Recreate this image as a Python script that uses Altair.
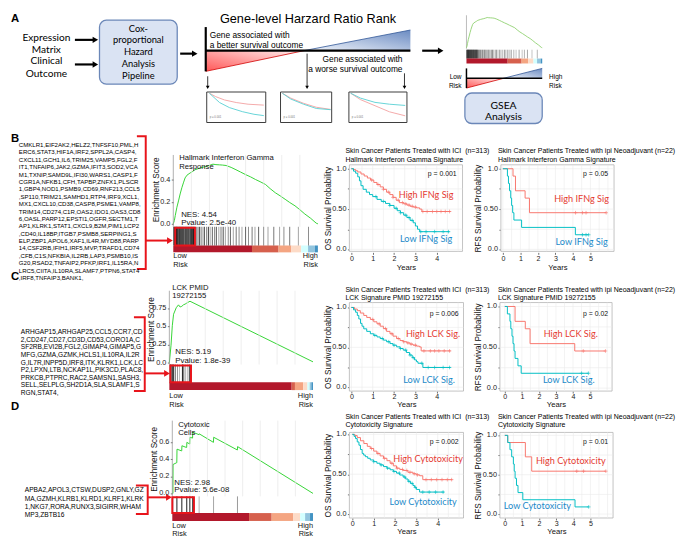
import altair as alt
import pandas as pd

# ============================ DATA ============================
N_GENES = 20000

# --- B: Hallmark Interferon Gamma Response (running enrichment score) ---
IFNG_ES_RANK = [0, 150, 272, 500, 721, 950, 1184, 1400, 1633, 1900, 2313, 2650, 2993, 3300, 3673, 4100,
                4585, 5000, 5483, 5900, 6395, 6800, 7306, 8000, 8667, 9300, 10027, 10700, 11388, 12000,
                12748, 13400, 14109, 14800, 15469, 16100, 16830, 17500, 18190, 19000, 19769, 20000]
IFNG_ES = [0.0, 0.03, 0.074, 0.15, 0.207, 0.27, 0.326, 0.37, 0.415, 0.44, 0.459, 0.472, 0.489, 0.495,
           0.504, 0.512, 0.519, 0.528, 0.539, 0.535, 0.533, 0.531, 0.527, 0.51, 0.489, 0.468, 0.444,
           0.424, 0.40, 0.381, 0.356, 0.318, 0.281, 0.252, 0.222, 0.193, 0.163, 0.128, 0.089, 0.05,
           0.006, 0.0]
IFNG_HITS = [80, 200, 330, 450, 560, 700, 830, 960, 1100, 1230, 1370, 1500, 1640, 1780, 1920, 2060,
             2200, 2350, 2500, 2650, 2800, 2950,
             3150, 3400, 3600, 3850, 4100, 4300, 4600, 4850, 5100, 5400, 5700, 5950, 6300, 6600, 6900,
             7200, 7600, 7900, 8300, 8700, 9100, 9500, 10000, 10400,
             10900, 11300, 11800, 12500, 13100, 13900, 14700, 15300, 16100, 17300, 18700]
IFNG_HIT_W = [1, 1, 0.9, 1, 1, 0.8, 1, 1, 0.9, 1, 1, 0.7, 1, 1, 0.9, 1, 0.8, 1, 1, 0.9, 1, 0.8,
              0.8, 0.5, 0.9, 0.6, 0.4, 0.8, 0.5, 0.9, 0.4, 0.7, 0.5, 0.8, 0.4, 0.6, 0.8, 0.4, 0.5, 0.7,
              0.4, 0.6, 0.5, 0.4, 0.7, 0.5,
              0.6, 0.4, 0.7, 0.5, 0.4, 0.6, 0.4, 0.5, 0.6, 0.4, 0.5]
IFNG_LEAD = [272, 2993]
IFNG_GRAD_EDGES = [0, 10884, 14558, 16327, 17687, 18639, 19592, 20000]
IFNG_TICKS = [0, 0.2, 0.4]
IFNG_TICK_LABELS = ["0.0", "0.2", "0.4"]

# --- C: LCK PMID 19272155 ---
LCK_ES_RANK = [0, 233, 411, 589, 959, 1274, 1500, 1740, 1959, 2192, 2507, 2877, 20000]
LCK_ES = [0.0, 0.24, 0.51, 0.67, 0.76, 0.80, 0.77, 0.78, 0.80, 0.81, 0.83, 0.85, 0.01]
LCK_HITS = [120, 233, 411, 589, 822, 1137, 1411, 1822, 1959, 2192, 2507, 2781]
LCK_HIT_W = [1, 1, 1, 0.9, 0.7, 0.45, 0.3, 1, 0.6, 0.5, 0.3, 0.9]
LCK_LEAD = [137, 3014]
LCK_GRAD_EDGES = [0, 17032, 17489, 18630, 19224, 19543, 19772, 20000]
LCK_TICKS = [0, 0.25, 0.5, 0.75]
LCK_TICK_LABELS = ["0.0", "0.25", "0.5", "0.75"]

# --- D: Cytotoxic Cells ---
CYTO_ES_RANK = [0, 90, 110, 600, 640, 670, 1300, 1340, 1370, 2000, 2040, 2070, 2480, 2510, 2880, 2910,
                3800, 3830, 5850, 5880, 9250, 9280, 20000]
CYTO_ES = [0.0, 0.0, 0.34, 0.36, 0.36, 0.52, 0.50, 0.50, 0.56, 0.54, 0.54, 0.60, 0.58, 0.66, 0.65, 0.72,
           0.69, 0.70, 0.60, 0.66, 0.51, 0.55, 0.0]
CYTO_HITS = [100, 655, 1355, 2055, 2495, 2895, 3815, 5865, 9265]
CYTO_HIT_W = [0.35, 1, 1, 1, 1, 0.9, 0.35, 0.4, 0.45]
CYTO_LEAD = [0, 3077]
CYTO_GRAD_EDGES = [0, 10909, 14126, 17203, 18182, 18881, 19580, 20000]
CYTO_TICKS = [0, 0.2, 0.4, 0.6]
CYTO_TICK_LABELS = ["0.0", "0.2", "0.4", "0.6"]

GRAD_LEVELS = [-1.0, -0.75, -0.5, -0.25, 0.0, 0.5, 1.0]
GSEA_GRID = [2500, 5000, 7500, 10000, 12500, 15000, 17500]

# --- Kaplan-Meier curves (years, survival) ---
B_ICI_HIGH_T = [0, 0.1, 0.2, 0.3, 0.45, 0.6, 0.75, 0.9, 1.05, 1.2, 1.35, 1.5, 1.65, 1.8, 1.95, 2.1, 2.25,
                2.45, 2.6, 2.75, 2.9, 3.05, 3.2, 3.3, 4.65]
B_ICI_HIGH_S = [1.0, 0.99, 0.975, 0.96, 0.935, 0.91, 0.885, 0.86, 0.83, 0.805, 0.775, 0.745, 0.71, 0.68,
                0.645, 0.61, 0.58, 0.565, 0.55, 0.535, 0.525, 0.515, 0.5, 0.47, 0.47]
B_ICI_HIGH_C = [0.95, 1.25, 1.5, 1.75, 1.95, 2.2, 2.4, 2.55, 2.7, 2.85, 3.0, 3.35, 3.55, 3.8, 4.0, 4.2,
                4.4, 4.6]
B_ICI_LOW_T = [0, 0.1, 0.2, 0.3, 0.38, 0.45, 0.55, 0.7, 0.85, 1.0, 1.2, 1.4, 1.6, 1.8, 2.0, 2.15, 2.3,
               2.45, 2.6, 2.75, 2.9, 3.0, 3.1, 3.2, 4.6]
B_ICI_LOW_S = [1.0, 0.97, 0.945, 0.9, 0.85, 0.79, 0.745, 0.71, 0.68, 0.655, 0.62, 0.595, 0.57, 0.545,
               0.51, 0.48, 0.455, 0.425, 0.395, 0.36, 0.33, 0.29, 0.25, 0.22, 0.22]
B_ICI_LOW_C = [1.15, 1.5, 1.8, 2.1, 2.3, 2.55, 2.7, 2.85, 3.25, 3.5, 3.9, 4.3, 4.55]

B_IPI_HIGH_T = [0, 0.58, 0.72, 1.27, 1.52, 5.9]
B_IPI_HIGH_S = [1, 0.909, 0.727, 0.636, 0.455, 0.455]
B_IPI_HIGH_C = [4.15, 4.55, 4.75, 5.9]
B_IPI_LOW_T = [0, 0.26, 0.32, 0.38, 0.45, 0.5, 0.56, 0.63, 1.07, 4.14, 4.9]
B_IPI_LOW_S = [1, 0.909, 0.818, 0.727, 0.636, 0.545, 0.455, 0.364, 0.273, 0.182, 0.182]
B_IPI_LOW_C = [4.55, 4.75, 4.9]

C_ICI_HIGH_T = [0, 0.15, 0.28, 0.42, 0.58, 0.72, 0.89, 1.05, 1.2, 1.35, 1.5, 1.65, 1.81, 1.95, 2.12,
                2.28, 2.43, 2.6, 2.75, 2.89, 3.05, 3.19, 3.27, 4.65]
C_ICI_HIGH_S = [1, 0.98, 0.96, 0.93, 0.9, 0.875, 0.85, 0.82, 0.795, 0.765, 0.735, 0.7, 0.67, 0.64, 0.61,
                0.585, 0.57, 0.555, 0.54, 0.527, 0.515, 0.505, 0.455, 0.455]
C_ICI_HIGH_C = [1.0, 1.3, 1.6, 1.9, 2.2, 2.45, 2.65, 2.8, 3.0, 3.4, 3.7, 3.9, 4.1, 4.35, 4.6]
C_ICI_LOW_T = [0, 0.1, 0.2, 0.28, 0.35, 0.43, 0.5, 0.58, 0.72, 0.89, 1.05, 1.2, 1.35, 1.5, 1.65, 1.81,
               1.95, 2.12, 2.28, 2.43, 2.58, 2.73, 2.85, 2.96, 3.05, 3.12, 3.35, 4.65]
C_ICI_LOW_S = [1, 0.97, 0.94, 0.9, 0.856, 0.8, 0.765, 0.732, 0.7, 0.67, 0.65, 0.63, 0.61, 0.59, 0.57,
               0.547, 0.527, 0.506, 0.485, 0.465, 0.435, 0.403, 0.37, 0.342, 0.32, 0.3, 0.247, 0.247]
C_ICI_LOW_C = [1.1, 1.45, 1.75, 2.0, 2.3, 2.55, 2.75, 2.9, 3.3, 3.6, 3.9, 4.3, 4.6]

C_IPI_HIGH_T = [0, 0.6, 1.2, 1.48, 4.1, 5.9]
C_IPI_HIGH_S = [1, 0.818, 0.727, 0.545, 0.455, 0.455]
C_IPI_HIGH_C = [4.6, 5.9]
C_IPI_LOW_T = [0, 0.15, 0.3, 0.35, 0.42, 0.48, 0.54, 0.6, 0.77, 0.96, 4.9]
C_IPI_LOW_S = [1, 0.909, 0.818, 0.727, 0.636, 0.545, 0.455, 0.364, 0.273, 0.182, 0.182]
C_IPI_LOW_C = [4.5, 4.9]

D_ICI_HIGH_T = [0, 0.12, 0.23, 0.38, 0.54, 0.7, 0.84, 1.0, 1.15, 1.3, 1.46, 1.62, 1.77, 1.92, 2.07,
                2.22, 2.38, 2.6, 2.84, 3.0, 3.15, 3.3, 4.69]
D_ICI_HIGH_S = [1, 0.985, 0.96, 0.92, 0.885, 0.85, 0.823, 0.79, 0.761, 0.73, 0.7, 0.67, 0.638, 0.605,
                0.576, 0.56, 0.547, 0.525, 0.506, 0.492, 0.481, 0.432, 0.432]
D_ICI_HIGH_C = [0.9, 1.2, 1.5, 1.85, 2.1, 2.35, 2.55, 2.7, 2.9, 3.05, 3.45, 3.7, 3.95, 4.2, 4.45, 4.65]
D_ICI_LOW_T = [0, 0.08, 0.15, 0.23, 0.31, 0.38, 0.46, 0.53, 0.61, 0.72, 0.84, 1.0, 1.15, 1.3, 1.46, 1.62,
               1.77, 1.92, 2.07, 2.22, 2.38, 2.5, 2.61, 2.72, 2.84, 2.92, 3.0, 3.15, 4.3]
D_ICI_LOW_S = [1, 0.975, 0.947, 0.905, 0.864, 0.81, 0.761, 0.74, 0.72, 0.7, 0.679, 0.658, 0.638, 0.617,
               0.596, 0.576, 0.556, 0.535, 0.514, 0.49, 0.465, 0.44, 0.411, 0.385, 0.358, 0.335, 0.309,
               0.276, 0.276]
D_ICI_LOW_C = [1.0, 1.35, 1.65, 1.95, 2.2, 2.45, 2.65, 2.8, 2.95, 3.3, 3.6, 3.9, 4.25]

D_IPI_HIGH_T = [0, 0.17, 1.2, 1.57, 5.9]
D_IPI_HIGH_S = [1, 0.909, 0.727, 0.545, 0.545]
D_IPI_HIGH_C = [4.2, 4.6, 5.9]
D_IPI_LOW_T = [0, 0.17, 0.3, 0.4, 0.5, 0.55, 0.6, 0.68, 0.77, 1.05, 4.1, 4.9]
D_IPI_LOW_S = [1, 0.909, 0.818, 0.727, 0.636, 0.545, 0.455, 0.364, 0.273, 0.182, 0.091, 0.091]
D_IPI_LOW_C = [4.9]

KM_YTICKS = [0, 0.25, 0.5, 0.75, 1.0]
KM_YLABEL_VALUES = [0, 0.5, 1.0]
KM_YLABELS = ["0.0", "0.50", "1.0"]
KM_XGRID = [0, 0.5, 1, 1.5, 2, 2.5, 3, 3.5, 4, 4.5, 5, 5.5, 6]

# --- gene lists (as wrapped in the figure) ---
GENES_B = [
    "CMKLR1,EIF2AK2,HELZ2,TNFSF10,PML,H", "ERC6,STAT3,HIF1A,IRF2,SPPL2A,CASP4,",
    "CXCL11,GCH1,IL6,TRIM25,VAMP5,FGL2,F", "IT1,TNFAIP6,JAK2,GZMA,IFIT3,SOD2,VCA",
    "M1,TXNIP,SAMD9L,IFI30,WARS1,CASP1,F", "CGR1A,NFKB1,CFH,TAPBP,ZNFX1,PLSCR",
    "1,GBP4,NOD1,PSMB9,CD69,RNF213,CCL5", ",SP110,TRIM21,SAMHD1,RTP4,IRF9,XCL1,",
    "MX1,CXCL10,CD38,CASP8,PSME1,VAMP8,", "TRIM14,CD274,C1R,OAS2,IDO1,OAS3,CD8",
    "6,OASL,PARP12,EPSTI1,OGFR,SECTM1,T", "AP1,KLRK1,STAT1,CXCL9,B2M,PIM1,LCP2",
    ",CD40,IL18BP,ITGB7,PSMB8,SERPING1,S", "ELP,ZBP1,APOL6,XAF1,IL4R,MYD88,PARP",
    "14,CSF2RB,IFIH1,IRF5,MVP,TRAFD1,CD74", ",CFB,C1S,NFKBIA,IL2RB,LAP3,PSMB10,IS",
    "G20,RSAD2,TNFAIP2,PFKP,IRF1,IL15RA,N", "LRC5,CIITA,IL10RA,SLAMF7,PTPN6,STAT4",
    ",IRF8,TNFAIP3,BANK1,",
]
GENES_C = [
    "ARHGAP15,ARHGAP25,CCL5,CCR7,CD", "2,CD247,CD27,CD3D,CD53,CORO1A,C",
    "SF2RB,EVI2B,FGL2,GIMAP4,GIMAP5,G", "MFG,GZMA,GZMK,HCLS1,IL10RA,IL2R",
    "G,IL7R,INPP5D,IRF8,ITK,KLRK1,LCK,LC", "P2,LPXN,LTB,NCKAP1L,PIK3CD,PLAC8,",
    "PRKCB,PTPRC,RAC2,SAMSN1,SASH3,", "SELL,SELPLG,SH2D1A,SLA,SLAMF1,S", "RGN,STAT4,",
]
GENES_D = [
    "APBA2,APOL3,CTSW,DUSP2,GNLY,GZ", "MA,GZMH,KLRB1,KLRD1,KLRF1,KLRK",
    "1,NKG7,RORA,RUNX3,SIGIRR,WHAM", "MP3,ZBTB16",
]

# schematic thumbnails (relative time, relative survival)
THUMB_RED = [([.045, .15, .3, .5, .7, .967], [.96, .85, .74, .655, .6, .57]),
             ([.035, .2, .45, .7, .98], [.96, .8, .63, .5, .43]),
             ([.03, .2, .45, .7, .97], [.96, .75, .55, .35, .22])]
THUMB_CYAN = [([.045, .217, .383, .605, .8, .967], [.96, .655, .49, .355, .27, .226]),
              ([.035, .2, .45, .7, .98], [.96, .77, .6, .46, .42]),
              ([.03, .2, .45, .7, .97], [.96, .8, .66, .6, .56])]

# ============================ STYLE / LAYOUT ============================
ARIAL = "Liberation Sans"
CALIBRI = "Lato"
HIGH_LINE, LOW_LINE = "#F8766D", "#00BFC4"
HIGH_TXT, LOW_TXT = "#e53b32", "#1c8ac9"
RED = "#e8141b"
GRAD_RANGE = ["#b2182b", "#d6604d", "#f4a582", "#fddbc7", "#ffffff", "#92c5de", "#4393c3"]
PLUS = "M-1,0L1,0M0,-1L0,1"

COLS = [(0, 145), (145, 328), (328, 480), (480, 621)]
ROWS = [(0, 150), (150, 249), (249, 390), (390, 519)]

YAX = dict(orient="left", domain=False, grid=False, ticks=True, tickSize=2, tickWidth=0.7, tickColor="#333",
           labels=False, titleFontWeight="normal", titleColor="#111", titleFontSize=8.3,
           titleBaseline="middle", titleAlign="center")

# pixel layout of each panel
GSEA_B = dict(x0=173, x1=320, y0=220, ppu=112.5, enr_top=150, bar=(223, 242), grad=(242, 249),
              lr=(253, 262), ytx=156, tty=185)
GSEA_C = dict(x0=169, x1=315, y0=361, ppu=73.33, enr_top=288, bar=(363, 381), grad=(381, 389),
              lr=(395, 404), ytx=151, tty=327)
GSEA_D = dict(x0=172, x1=315, y0=494, ppu=86.5, enr_top=420, bar=(497, 514), grad=(514, 522),
              lr=(527, 535), ytx=154, tty=459)
KB1 = dict(col=2, row=1, x0px=354, ppy=21.7, y1px=164, y0px=246, panel=(352, 467, 160, 248), ytx=331, years_y=264)
KB2 = dict(col=3, row=1, x0px=508, ppy=17.8, y1px=164, y0px=246, panel=(506, 621, 160, 248), ytx=483, years_y=264)
KC1 = dict(col=2, row=2, x0px=354, ppy=21.7, y1px=305, y0px=386, panel=(352, 468, 300, 390), ytx=331, years_y=404)
KC2 = dict(col=3, row=2, x0px=510, ppy=17.33, y1px=304, y0px=387, panel=(505, 619, 300, 390), ytx=483, years_y=404)
KD1 = dict(col=2, row=3, x0px=355, ppy=21.7, y1px=434, y0px=515, panel=(352, 468, 432, 519), ytx=331, years_y=533)
KD2 = dict(col=3, row=3, x0px=510, ppy=17.4, y1px=435, y0px=515, panel=(505, 620, 432, 519), ytx=483, years_y=533)


def grad_scale():
    return alt.Scale(domain=GRAD_LEVELS, range=GRAD_RANGE)


def tchart(text, x, y, **kw):
    return alt.Chart(pd.DataFrame({"t": [text]})).mark_text(baseline="middle", **kw).encode(
        x=alt.value(x), y=alt.value(y), text="t:N")


def tick_texts(values, labels, x, to_px):
    """y tick labels at the pixel rows of their tick values"""
    return [tchart(s, x, to_px(v), align="right", font=ARIAL, fontSize=7.4, color="#1a1a1a")
            for v, s in zip(values, labels)]


# ---------------------------- GSEA panels ----------------------------
def gsea_chart(L, row, rank, es, hits, hitw, edges, lead, title_lines, nes_lines, ticks, tick_labels):
    cx0, cx1 = COLS[1]
    cy0, cy1 = ROWS[row]
    W, H = cx1 - cx0, cy1 - cy0
    ppr = (L["x1"] - L["x0"]) / N_GENES
    rx = lambda p: (p - L["x0"]) / ppr
    ey = lambda p: (L["y0"] - p) / L["ppu"]
    xs = alt.Scale(domain=[rx(cx0), rx(cx1)], nice=False, zero=False)
    ys = alt.Scale(domain=[ey(cy1), ey(cy0)], nice=False, zero=False)
    X = lambda f: alt.X(f, type="quantitative", scale=xs, axis=None)
    Y = lambda f, axis=None: alt.Y(f, type="quantitative", scale=ys, axis=axis)
    es_top, es_bot = ey(L["enr_top"]), ey(L["bar"][0])

    yaxis = alt.Axis(values=ticks, title="Enrichment Score", offset=cx0 - L["x0"],
                     titleX=L["ytx"] - L["x0"], titleY=L["tty"] - cy0, **YAX)

    curve = alt.Chart(pd.DataFrame({"r": rank, "es": es})).mark_line(
        color="#35d435", strokeWidth=1).encode(x=X("r"), y=Y("es", yaxis))
    grid = alt.Chart(pd.DataFrame({"r": GSEA_GRID, "a": es_bot, "b": es_top})).mark_rule(
        color="#e6e6e6", strokeWidth=0.7).encode(x=X("r"), y=Y("a"), y2="b")
    spine = alt.Chart(pd.DataFrame({"r": [0], "a": [es_bot], "b": [es_top]})).mark_rule(
        color="#9c9c9c", strokeWidth=0.8).encode(x=X("r"), y=Y("a"), y2="b")
    bars = alt.Chart(pd.DataFrame({"r": hits, "w": hitw})).mark_rule(color="black", strokeWidth=0.9).encode(
        x=X("r"), y=alt.value(L["bar"][0] - cy0), y2=alt.value(L["bar"][1] - cy0),
        opacity=alt.Opacity("w:Q", scale=alt.Scale(domain=[0, 1], range=[0, 1]), legend=None))
    grad = alt.Chart(pd.DataFrame({"a": edges[:-1], "b": edges[1:], "v": GRAD_LEVELS})).mark_rect().encode(
        x=X("a"), x2="b", y=alt.value(L["grad"][0] - cy0), y2=alt.value(L["grad"][1] - cy0),
        color=alt.Color("v:Q", scale=grad_scale(), legend=None))
    box = alt.Chart(pd.DataFrame({"a": [lead[0]], "b": [lead[1]]})).mark_rect(
        fillOpacity=0, stroke=RED, strokeWidth=2).encode(
        x=X("a"), x2="b", y=alt.value(L["bar"][0] - cy0 + 1), y2=alt.value(L["bar"][1] - cy0))

    texts = tick_texts(ticks, tick_labels, L["x0"] - cx0 - 3, lambda v: L["y0"] - v * L["ppu"] - cy0)
    for (px, py, s) in title_lines:
        texts.append(tchart(s, px - cx0, py - cy0, align="left", font=ARIAL, fontSize=7.8, color="#111"))
    for (px, py, s) in nes_lines:
        texts.append(tchart(s, px - cx0, py - cy0, align="left", font=ARIAL, fontSize=8, color="#111"))
    lr0, lr1 = L["lr"]
    for s, py in (("Low", lr0), ("Risk", lr1)):
        texts.append(tchart(s, L["x0"] - cx0, py - cy0, align="left", font=ARIAL, fontSize=7.5, color="#111"))
    for s, py in (("High", lr0), ("Risk", lr1)):
        texts.append(tchart(s, L["x1"] - cx0, py - cy0, align="right", font=ARIAL, fontSize=7.5, color="#111"))

    return alt.layer(curve, grid, spine, grad, bars, box, *texts).resolve_axis(
        x="independent", y="independent").properties(width=W, height=H)


# ---------------------------- KM panels ----------------------------
def step_value(ts, ss, t):
    v = ss[0]
    for ti, si in zip(ts, ss):
        if ti <= t:
            v = si
    return v


def km_chart(L, high, low, ytitle, xticks, annots):
    cx0, cx1 = COLS[L["col"]]
    cy0, cy1 = ROWS[L["row"]]
    W, H = cx1 - cx0, cy1 - cy0
    ppu = L["y0px"] - L["y1px"]
    tx = lambda p: (p - L["x0px"]) / L["ppy"]
    ty = lambda p: (L["y0px"] - p) / ppu
    xs = alt.Scale(domain=[tx(cx0), tx(cx1)], nice=False, zero=False)
    ys = alt.Scale(domain=[ty(cy1), ty(cy0)], nice=False, zero=False)
    px0, px1, py0, py1 = L["panel"]
    xa, xb, ya, yb = tx(px0), tx(px1), ty(py1), ty(py0)
    X = lambda f, axis=None: alt.X(f, type="quantitative", scale=xs, axis=axis)
    Y = lambda f, axis=None: alt.Y(f, type="quantitative", scale=ys, axis=axis)

    xaxis = alt.Axis(values=xticks, orient="bottom", format="d", domain=False, grid=False, tickSize=2,
                     tickWidth=0.7, tickColor="#333", labelFontSize=7.2, labelPadding=0, labelColor="#222",
                     labelFlush=False, labelOverlap=False, title="Years", titleFontSize=7.8,
                     titleFontWeight="normal", titleColor="#111", titleX=(px0 + px1) / 2 - cx0,
                     titleY=L["years_y"] - cy1, titleBaseline="middle", titleAlign="center")
    yaxis = alt.Axis(values=KM_YTICKS, title=ytitle, offset=cx0 - px0, titleX=L["ytx"] - px0,
                     titleY=(py0 + py1) / 2 - cy0, **YAX)

    panel = alt.Chart(pd.DataFrame({"a": [xa], "b": [xb], "c": [ya], "d": [yb]})).mark_rect(
        fill="white", stroke="#b4b4b4", strokeWidth=0.8).encode(
        x=X("a", xaxis), x2="b", y=Y("c", yaxis), y2="d")
    ygrid = alt.Chart(pd.DataFrame({"y": KM_YTICKS, "a": xa, "b": xb})).mark_rule(
        color="#ebebeb", strokeWidth=0.6).encode(x=X("a"), x2="b", y=Y("y"))
    xg = [v for v in KM_XGRID if xa <= v <= xb]
    xgrid = alt.Chart(pd.DataFrame({"x": xg, "c": ya, "d": yb})).mark_rule(
        color="#ebebeb", strokeWidth=0.6).encode(x=X("x"), y=Y("c"), y2="d")

    layers = [panel, ygrid, xgrid]
    for (T, S, C), col in ((high, HIGH_LINE), (low, LOW_LINE)):
        layers.append(alt.Chart(pd.DataFrame({"t": T, "s": S})).mark_line(
            interpolate="step-after", color=col, strokeWidth=1).encode(x=X("t"), y=Y("s")))
        layers.append(alt.Chart(pd.DataFrame({"t": C, "s": [step_value(T, S, c) for c in C]})).mark_point(
            shape=PLUS, filled=False, size=14, strokeWidth=0.6, color=col, opacity=1).encode(
            x=X("t"), y=Y("s")))

    layers += tick_texts(KM_YLABEL_VALUES, KM_YLABELS, px0 - cx0 - 3,
                         lambda v: L["y0px"] - v * ppu - cy0)
    (ppx, ppy_, ptxt), (hx, hy, htxt), (lx, ly, ltxt) = annots
    layers.append(tchart(ptxt, ppx - cx0, ppy_ - cy0, align="right", font=ARIAL, fontSize=7, color="#111"))
    layers.append(tchart(htxt, hx - cx0, hy - cy0, align="center", font=CALIBRI, fontSize=9.3, color=HIGH_TXT))
    layers.append(tchart(ltxt, lx - cx0, ly - cy0, align="center", font=CALIBRI, fontSize=9.3, color=LOW_TXT))
    return alt.layer(*layers).resolve_axis(x="independent", y="independent").properties(width=W, height=H)


# ---------------------------- overlay (panel A, gene lists, brackets) ----------------------------
OV_W = COLS[0][1] - COLS[0][0]
OV_H = ROWS[0][1] - ROWS[0][0]


def OX(f="x"):
    return alt.X(f"{f}:Q", scale=alt.Scale(domain=[0, OV_W], nice=False, zero=False), axis=None)


def OY(f="y"):
    return alt.Y(f"{f}:Q", scale=alt.Scale(domain=[0, OV_H], nice=False, zero=False, reverse=True), axis=None)


def rules(rows, color, width):
    df = pd.DataFrame(rows, columns=["x", "x2", "y", "y2"])
    return alt.Chart(df).mark_rule(color=color, strokeWidth=width).encode(
        x=OX(), x2="x2:Q", y=OY(), y2="y2:Q")


def heads(rows, shape, size, color):
    df = pd.DataFrame(rows, columns=["x", "y"])
    return alt.Chart(df).mark_point(shape=shape, filled=True, size=size, color=color, opacity=1).encode(
        x=OX(), y=OY())


def texts(rows, align, font, color="black", weight="normal"):
    df = pd.DataFrame(rows, columns=["x", "y", "t", "size"])
    return alt.Chart(df).mark_text(align=align, baseline="middle", font=font, color=color,
                                   fontWeight=weight).encode(
        x=OX(), y=OY(), text="t:N", size=alt.Size("size:Q", scale=None))


def tri(points, base, c0, c1, edge):
    df = pd.DataFrame({"x": [p[0] for p in points], "y": [p[1] for p in points], "y2": base})
    g = alt.Gradient(gradient="linear", stops=[alt.GradientStop(color=c0, offset=0),
                                                alt.GradientStop(color=c1, offset=1)],
                     x1=0, y1=1, x2=1, y2=0)
    return alt.Chart(df).mark_area(color=g, line={"color": edge, "strokeWidth": 0.8}).encode(
        x=OX(), y=OY(), y2="y2:Q")


ov = []
ov.append(alt.Chart(pd.DataFrame({"x": [0], "x2": [685], "y": [0], "y2": [539]})).mark_rect(opacity=0).encode(
    x=OX(), x2="x2:Q", y=OY(), y2="y2:Q"))

BOXES = [(98, 177, 13, 78), (469.4, 548, 87, 118)]
ov.append(alt.Chart(pd.DataFrame(BOXES, columns=["x", "x2", "y", "y2"])).mark_rect(
    cornerRadius=7, fill="#dae3f3", stroke="#6b87b8", strokeWidth=1.3).encode(
    x=OX(), x2="x2:Q", y=OY(), y2="y2:Q"))

THUMBS = [(207, 267, 86, 117), (282, 334, 86, 117), (351.5, 410.5, 86, 117)]
ov.append(alt.Chart(pd.DataFrame(THUMBS, columns=["x", "x2", "y", "y2"])).mark_rect(
    fill="white", stroke="#3a3a3a", strokeWidth=1).encode(x=OX(), x2="x2:Q", y=OY(), y2="y2:Q"))
for curves, col in ((THUMB_RED, "#f2a0a0"), (THUMB_CYAN, "#55cfd3")):
    rows = []
    for i, ((ts, ss), (x0, x1, y0, y1)) in enumerate(zip(curves, THUMBS)):
        for k, (t, s) in enumerate(zip(ts, ss)):
            rows.append({"id": i, "o": k, "x": x0 + t * (x1 - x0), "y": y1 - s * (y1 - y0)})
    ov.append(alt.Chart(pd.DataFrame(rows)).mark_line(color=col, strokeWidth=0.9).encode(
        x=OX(), y=OY(), detail="id:N", order="o:Q"))
ov.append(texts([(x0 + 3, y1 - 6, "p = 0.001", 2.8) for (x0, x1, y0, y1) in THUMBS], "left", ARIAL, "#777"))

# risk-rank triangles
ov.append(tri([(206, 65), (305.7, 44)], 44, "#ff1010", "#ffe8e8", "#d00000"))
ov.append(tri([(305.7, 44), (414, 23)], 44, "#eef3fb", "#2c5aa8", "#2f5597"))
ov.append(tri([(471, 82), (509, 72)], 72, "#ff1010", "#ffe8e8", "#d00000"))
ov.append(tri([(509, 72), (548, 62)], 72, "#eef3fb", "#2c5aa8", "#2f5597"))
ov.append(rules([(206, 414, 44, 44), (206, 206, 20, 65)], "black", 2.2))
ov.append(rules([(471, 548, 72, 72), (471, 471, 62, 82)], "black", 1.5))

# arrows
THICK_ARROWS = [(73, 97, 33), (73, 97, 58), (180, 198, 47), (426, 448, 44)]
ov.append(rules([(a, b - 4, y, y) for a, b, y in THICK_ARROWS], "black", 2.2))
ov.append(heads([(b - 3.2, y) for a, b, y in THICK_ARROWS], "triangle-right", 42, "black"))
DOWN_ARROWS = [(208, 70, 83), (309, 47, 83), (408, 67, 83)]
ov.append(rules([(x, x, a, b - 2) for x, a, b in DOWN_ARROWS], "black", 0.8))
ov.append(heads([(x, b - 1.8) for x, a, b in DOWN_ARROWS], "triangle-down", 14, "black"))

# mini GSEA schematic (re-uses the B panel data)
MX0, MX1, MBASE, MSC = 471, 548, 41, 57
mx = lambda r: MX0 + r / N_GENES * (MX1 - MX0)
ov.append(rules([(MX0, MX0, 8, 42)], "#aaaaaa", 0.8))
ov.append(alt.Chart(pd.DataFrame({"x": [mx(r) for r in IFNG_ES_RANK],
                                  "y": [MBASE - e * MSC for e in IFNG_ES]})).mark_line(
    color="#8fd06f", strokeWidth=0.9).encode(x=OX(), y=OY()))
ov.append(alt.Chart(pd.DataFrame({"x": [mx(r) for r in IFNG_HITS], "y": 43, "y2": 52,
                                  "w": IFNG_HIT_W})).mark_rule(color="black", strokeWidth=0.6).encode(
    x=OX(), x2="x:Q", y=OY(), y2="y2:Q",
    opacity=alt.Opacity("w:Q", scale=alt.Scale(domain=[0, 1], range=[0, 1]), legend=None)))
ov.append(alt.Chart(pd.DataFrame({"x": [mx(r) for r in IFNG_GRAD_EDGES[:-1]],
                                  "x2": [mx(r) for r in IFNG_GRAD_EDGES[1:]],
                                  "y": 52, "y2": 57, "v": GRAD_LEVELS})).mark_rect().encode(
    x=OX(), x2="x2:Q", y=OY(), y2="y2:Q", color=alt.Color("v:Q", scale=grad_scale(), legend=None)))

# red brackets + arrows
BRACKETS = [[(136, 131), (145, 131), (145, 266), (136, 266)],
            [(133, 315), (144, 315), (144, 390), (133, 390)],
            [(135, 486), (147, 486), (147, 515), (135, 515)]]
brows = [{"id": i, "o": k, "x": x, "y": y} for i, br in enumerate(BRACKETS) for k, (x, y) in enumerate(br)]
ov.append(alt.Chart(pd.DataFrame(brows)).mark_line(color=RED, strokeWidth=2).encode(
    x=OX(), y=OY(), detail="id:N", order="o:Q"))
RED_ARROWS = [(145, 173, 237), (144, 170, 372), (147, 172, 498)]
ov.append(rules([(a, b - 5, y, y) for a, b, y in RED_ARROWS], RED, 2))
ov.append(heads([(b - 3.4, y) for a, b, y in RED_ARROWS], "triangle-right", 46, RED))

# texts
ov.append(texts([(44, 31, "Expression", 10.3), (44, 43, "Matrix", 10.3), (44, 55, "Clinical", 10.3),
                 (44, 68, "Outcome", 10.3),
                 (137.5, 22, "Cox-", 9.5), (137.5, 33.5, "proportional", 9.5), (137.5, 45.5, "Hazard", 9.5),
                 (137.5, 57.5, "Analysis", 9.5), (137.5, 69.5, "Pipeline", 9.5),
                 (508.7, 100, "GSEA", 10.5), (508.7, 111, "Analysis", 10.5)], "center", CALIBRI))
ov.append(texts([(310, 12, "Gene-level Harzard Ratio Rank", 12.9)], "center", ARIAL))
left_rows = [(210, 28, "Gene associated with", 8.5), (210, 38, "a better survival outcome", 8.5),
             (555, 71, "High", 6.6), (555, 80, "Risk", 6.6)]
left_rows += [(16, 140 + 7.5 * i, s, 6.2) for i, s in enumerate(GENES_B)]
left_rows += [(18, 330 + 7.75 * i, s, 6.7) for i, s in enumerate(GENES_C)]
left_rows += [(22, 491 + 8.3 * i, s, 6.75) for i, s in enumerate(GENES_D)]
ICI = "Skin Cancer Patients Treated with ICI\u00a0 (n=313)"
IPI = "Skin Cancer Patients Treated with ipi Neoadjuvant (n=22)"
for (ya, yb), sig in (((146, 155), "Hallmark Interferon Gamma Signature"),
                      ((287, 295), "LCK Signature PMID 19272155"),
                      ((416, 425), "Cytotoxicity Signature")):
    left_rows += [(348, ya, ICI, 7.1), (348, yb, sig, 7.1), (503, ya, IPI, 7.1), (503, yb, sig, 7.1)]
ov.append(texts(left_rows, "left", ARIAL))
ov.append(texts([(406, 53, "Gene associated with", 8.5), (406, 63, "a worse survival outcome", 8.5),
                 (466, 71, "Low", 6.6), (466, 80, "Risk", 6.6)], "right", ARIAL))
ov.append(texts([(8, 12, "A", 11.5), (8, 134, "B", 11.5), (8, 274, "C", 11.5), (8, 406, "D", 11.5)],
                "left", ARIAL, weight="bold"))

overlay = alt.layer(*ov).properties(width=OV_W, height=OV_H)

# ---------------------------- assemble ----------------------------
gB = gsea_chart(GSEA_B, 1, IFNG_ES_RANK, IFNG_ES, IFNG_HITS, IFNG_HIT_W, IFNG_GRAD_EDGES, IFNG_LEAD,
                [(179, 153, "Hallmark Interferon Gamma"), (179, 162, "Response")],
                [(181, 211, "NES: 4.54"), (181, 219, "Pvalue: 2.5e-40")], IFNG_TICKS, IFNG_TICK_LABELS)
gC = gsea_chart(GSEA_C, 2, LCK_ES_RANK, LCK_ES, LCK_HITS, LCK_HIT_W, LCK_GRAD_EDGES, LCK_LEAD,
                [(172, 285, "LCK PMID"), (172, 293, "19272155")],
                [(175, 350, "NES: 5.19"), (175, 359, "Pvalue: 1.8e-39")], LCK_TICKS, LCK_TICK_LABELS)
gD = gsea_chart(GSEA_D, 3, CYTO_ES_RANK, CYTO_ES, CYTO_HITS, CYTO_HIT_W, CYTO_GRAD_EDGES, CYTO_LEAD,
                [(178, 425, "Cytotoxic"), (178, 433, "Cells")],
                [(174, 483, "NES: 2.98"), (174, 491, "Pvalue: 5.6e-08")], CYTO_TICKS, CYTO_TICK_LABELS)

OS, RFS = "OS Survival Probability", "RFS Survival Probability"
kB1 = km_chart(KB1, (B_ICI_HIGH_T, B_ICI_HIGH_S, B_ICI_HIGH_C), (B_ICI_LOW_T, B_ICI_LOW_S, B_ICI_LOW_C),
               OS, [0, 1, 2, 3, 4],
               [(461, 169, "p = 0.001"), (430, 191, "High IFNg Sig"), (430, 235, "Low IFNg Sig")])
kB2 = km_chart(KB2, (B_IPI_HIGH_T, B_IPI_HIGH_S, B_IPI_HIGH_C), (B_IPI_LOW_T, B_IPI_LOW_S, B_IPI_LOW_C),
               RFS, [0, 1, 2, 3, 4, 5],
               [(615, 169, "p = 0.05"), (588, 195, "High IFNg Sig"), (588, 239, "Low IFNg Sig")])
kC1 = km_chart(KC1, (C_ICI_HIGH_T, C_ICI_HIGH_S, C_ICI_HIGH_C), (C_ICI_LOW_T, C_ICI_LOW_S, C_ICI_LOW_C),
               OS, [0, 1, 2, 3, 4],
               [(463, 312, "p = 0.006"), (437, 332, "High LCK Sig."), (433, 379, "Low LCK Sig.")])
kC2 = km_chart(KC2, (C_IPI_HIGH_T, C_IPI_HIGH_S, C_IPI_HIGH_C), (C_IPI_LOW_T, C_IPI_LOW_S, C_IPI_LOW_C),
               RFS, [0, 1, 2, 3, 4, 5],
               [(615, 312, "p = 0.02"), (577, 332, "High LCK Sig."), (575, 379, "Low LCK Sig.")])
kD1 = km_chart(KD1, (D_ICI_HIGH_T, D_ICI_HIGH_S, D_ICI_HIGH_C), (D_ICI_LOW_T, D_ICI_LOW_S, D_ICI_LOW_C),
               OS, [0, 1, 2, 3, 4],
               [(463, 442, "p = 0.002"), (432, 459, "High Cytotoxicity"), (427, 503, "Low Cytotoxicity")])
kD2 = km_chart(KD2, (D_IPI_HIGH_T, D_IPI_HIGH_S, D_IPI_HIGH_C), (D_IPI_LOW_T, D_IPI_LOW_S, D_IPI_LOW_C),
               RFS, [0, 1, 2, 3, 4, 5],
               [(615, 442, "p = 0.01"), (577, 461, "High Cytotoxicity"), (543, 507, "Low Cytotoxicity")])


def spacer(c, r):
    w = COLS[c][1] - COLS[c][0]
    h = ROWS[r][1] - ROWS[r][0]
    return alt.Chart(pd.DataFrame({"v": [0]})).mark_point(opacity=0).encode(
        x=alt.value(0), y=alt.value(0)).properties(width=w, height=h)


cells = [overlay, spacer(1, 0), spacer(2, 0), spacer(3, 0),
         spacer(0, 1), gB, kB1, kB2,
         spacer(0, 2), gC, kC1, kC2,
         spacer(0, 3), gD, kD1, kD2]

chart = alt.concat(*cells, columns=4, spacing=0, bounds="flush").resolve_scale(
    color="independent", opacity="independent", size="independent"
).configure_view(stroke=None).configure_axis(
    labelFont=ARIAL, titleFont=ARIAL
).properties(padding={"left": -8, "top": -8, "right": 0, "bottom": 0}, background="white")

chart.save("out.html", embed_options={"renderer": "svg", "actions": False})
